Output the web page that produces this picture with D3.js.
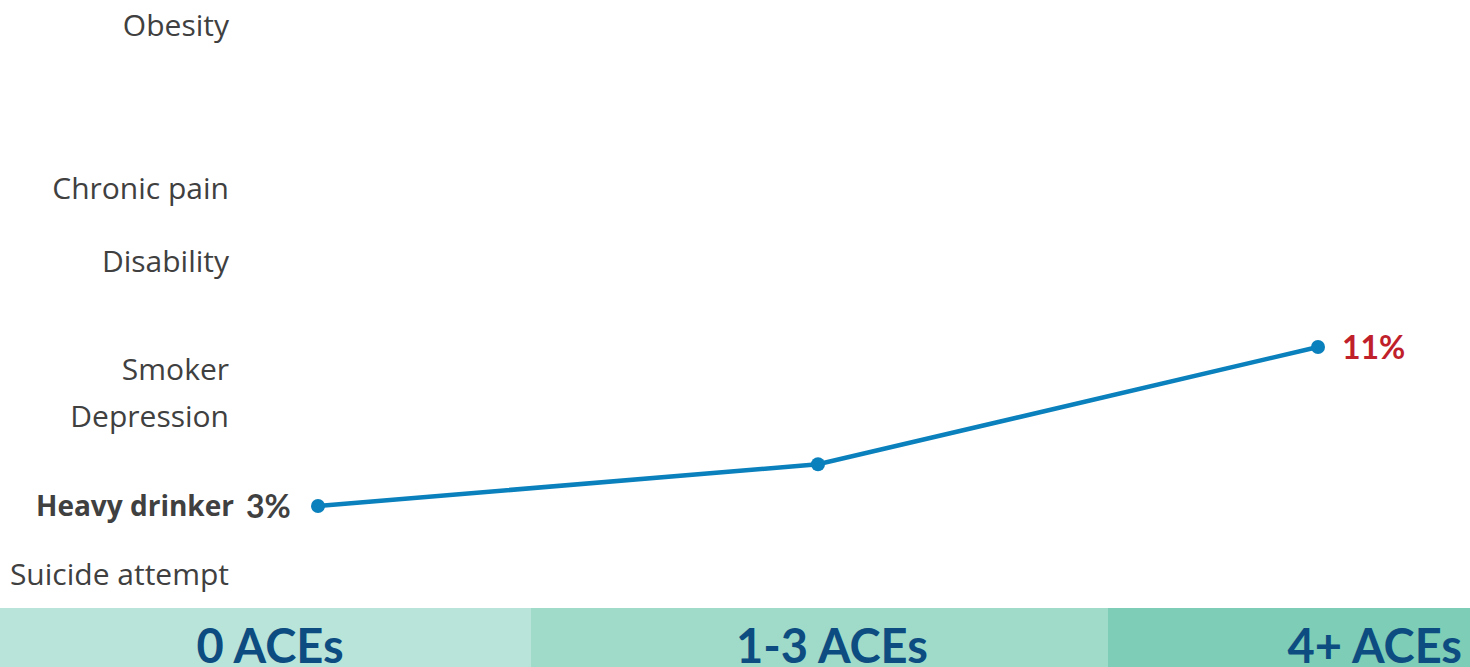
<!DOCTYPE html>
<html>
<head>
<meta charset="utf-8">
<script src="https://cdn.jsdelivr.net/npm/d3@7/dist/d3.min.js"></script>
<style>
  html, body { margin: 0; padding: 0; background: #fff; }
  svg { display: block; }
  text { font-family: Lato, "Open Sans", sans-serif; }
  .outcome { font-family: "Open Sans", Lato, sans-serif; }
</style>
</head>
<body>
<svg id="chart" width="1470" height="667"></svg>
<script>
// ACE groups shown along the bottom
const groups = ["0 ACEs", "1-3 ACEs", "4+ ACEs"];
const groupColors = ["#b9e4d9", "#a0dbca", "#7ecdb7"];

// Outcome labels at their prevalence (%) among adults with 0 ACEs
const outcomes = ["Obesity", "Chronic pain", "Disability", "Smoker", "Depression", "Heavy drinker", "Suicide attempt"];
const outcomeAt0 = [27.2, 19.0, 15.3, 9.9, 7.5, 3, 0];

// Highlighted outcome: heavy drinking prevalence (%) per ACE group
const highlight = "Heavy drinker";
const heavyDrinker = [3, 5.1, 11];

const W = 1470, H = 667;
const svg = d3.select("#chart");

// Bottom group bands
const bandTop = 608;
const bandEdges = [0, 531, 1108, W];
svg.append("g").selectAll("rect")
  .data(groups)
  .join("rect")
  .attr("x", (d, i) => bandEdges[i])
  .attr("y", bandTop)
  .attr("width", (d, i) => bandEdges[i + 1] - bandEdges[i])
  .attr("height", H - bandTop)
  .attr("fill", (d, i) => groupColors[i]);

// Group positions along x, prevalence along y
const x = d3.scalePoint().domain(groups).range([318, 1318]);
const y = d3.scaleLinear().domain([0, 11]).range([565.6, 347]);

// Group captions in the bands
const captionX = [270, 832, 1462];
const captionAnchor = ["middle", "middle", "end"];
svg.append("g").selectAll("text")
  .data(groups)
  .join("text")
  .attr("x", (d, i) => captionX[i])
  .attr("y", 663)
  .attr("text-anchor", (d, i) => captionAnchor[i])
  .attr("font-size", 47)
  .attr("font-weight", 700)
  .attr("fill", "#0c4c80")
  .text(d => d);

// Outcome labels on the left; the lowest one hangs below its baseline value
svg.append("g").selectAll("text")
  .data(outcomes)
  .join("text")
  .attr("class", "outcome")
  .attr("x", d => d === highlight ? 234 : 229)
  .attr("y", (d, i) => y(outcomeAt0[i]))
  .attr("dy", (d, i) => outcomeAt0[i] === 0 ? "0.65em" : "0.36em")
  .attr("text-anchor", "end")
  .attr("font-size", d => d === highlight ? 28 : 30)
  .attr("font-weight", d => d === highlight ? 700 : 400)
  .attr("fill", "#404040")
  .text(d => d);

// Heavy drinker line
const line = d3.line()
  .x((d, i) => x(groups[i]))
  .y(d => y(d));

svg.append("path")
  .datum(heavyDrinker)
  .attr("d", line)
  .attr("fill", "none")
  .attr("stroke", "#0a80bc")
  .attr("stroke-width", 4.5);

svg.append("g").selectAll("circle")
  .data(heavyDrinker)
  .join("circle")
  .attr("cx", (d, i) => x(groups[i]))
  .attr("cy", d => y(d))
  .attr("r", 7)
  .attr("fill", "#0a80bc");

// Value labels at the ends
const first = heavyDrinker[0], last = heavyDrinker[heavyDrinker.length - 1];
svg.append("text")
  .attr("x", 246)
  .attr("y", y(first))
  .attr("dy", "0.36em")
  .attr("font-size", 32)
  .attr("font-weight", 700)
  .attr("fill", "#404040")
  .text(first + "%");

svg.append("text")
  .attr("x", 1342)
  .attr("y", y(last))
  .attr("dy", "0.36em")
  .attr("font-size", 32)
  .attr("font-weight", 700)
  .attr("fill", "#c0202a")
  .text(last + "%");
</script>
</body>
</html>
